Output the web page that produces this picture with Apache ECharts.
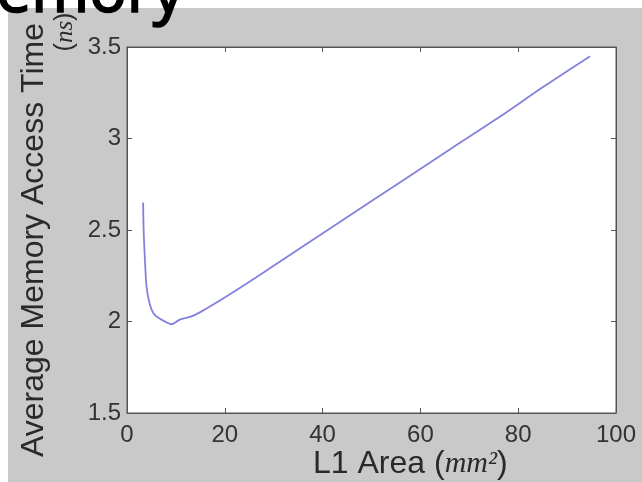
<!DOCTYPE html>
<html>
<head>
<meta charset="utf-8">
<script src="https://cdn.jsdelivr.net/npm/echarts@6/dist/echarts.min.js"></script>
<style>html,body{margin:0;padding:0;background:#fff;}#c{width:642px;height:482px;}</style>
</head>
<body>
<div id="c"></div>
<script>
// L1 area (mm^2) and average memory access time (ns)
var areaMm2 = [3.3, 3.4, 3.7, 4.0, 4.6, 5.4, 6.4, 8.1, 9.1, 10.8, 12.9, 14.9, 21.7, 28.6, 35.4, 45, 55.8, 66, 76.3, 85, 94.7];
var accessTimeNs = [2.65, 2.50, 2.32, 2.19, 2.10, 2.045, 2.02, 1.995, 1.985, 2.01, 2.025, 2.05, 2.16, 2.28, 2.40, 2.57, 2.76, 2.94, 3.12, 3.28, 3.45];
var xTicks = [0, 20, 40, 60, 80, 100];
var yTicks = [1.5, 2, 2.5, 3, 3.5];

var seriesData = areaMm2.map(function (x, i) { return [x, accessTimeNs[i]]; });

var chart = echarts.init(document.getElementById('c'), null, {renderer: 'canvas'});
var labelColor = '#333333';
var axisColor = '#555';
function xAxisDef(pos, showLabel) {
  return {
    type: 'value', position: pos,
    min: xTicks[0], max: xTicks[xTicks.length - 1], interval: xTicks[1] - xTicks[0],
    axisLine: {show: true, onZero: false, lineStyle: {color: axisColor, width: 1}},
    axisTick: {show: true, inside: true, length: 5, lineStyle: {color: axisColor}},
    axisLabel: {show: showLabel, fontSize: 24, color: labelColor, fontFamily: 'Liberation Sans', margin: 10},
    splitLine: {show: false}
  };
}
function yAxisDef(pos, showLabel) {
  return {
    type: 'value', position: pos,
    min: yTicks[0], max: yTicks[yTicks.length - 1], interval: yTicks[1] - yTicks[0],
    axisLine: {show: true, onZero: false, lineStyle: {color: axisColor, width: 1}},
    axisTick: {show: true, inside: true, length: 5, lineStyle: {color: axisColor}},
    axisLabel: {show: showLabel, fontSize: 24, color: labelColor, fontFamily: 'Liberation Sans', margin: 6, padding: [0, 0, 6, 0]},
    splitLine: {show: false}
  };
}
chart.setOption({
  backgroundColor: '#ffffff',
  animation: false,
  grid: {left: 127, top: 47, right: 26, bottom: 69, show: true, backgroundColor: '#ffffff', borderColor: axisColor, borderWidth: 1},
  xAxis: [xAxisDef('bottom', true), xAxisDef('top', false)],
  yAxis: [yAxisDef('left', true), yAxisDef('right', false)],
  graphic: [
    {type: 'rect', z: -10, shape: {x: 8, y: 8, width: 640, height: 480}, style: {fill: '#c9c9c9'}},
    {type: 'text', z: 100, x: 184, y: -6, style: {text: 'Memory', fontSize: 62, fontFamily: 'Noto Sans', fill: '#000', stroke: '#000', lineWidth: 1.5, textAlign: 'right', textVerticalAlign: 'middle'}},
    {type: 'text', z: 100, x: 34, y: 240, rotation: Math.PI / 2, style: {text: 'Average Memory Access Time', fontSize: 32, fontFamily: 'Liberation Sans', fill: '#2a2a2a', textAlign: 'center', textVerticalAlign: 'middle'}},
    {type: 'text', z: 100, x: 65, y: 32, rotation: Math.PI / 2, style: {
      text: '{a|(}{b|ns}{a|)}', textAlign: 'center', textVerticalAlign: 'middle',
      rich: {a: {fontSize: 25, fontFamily: 'Liberation Sans', fill: '#2a2a2a', color: '#2a2a2a'}, b: {fontSize: 25, fontFamily: 'Liberation Serif', fontStyle: 'italic', fill: '#2a2a2a', color: '#2a2a2a'}}
    }},
    {type: 'text', z: 100, x: 313, y: 464, style: {
      text: '{a|L1 Area (}{b|mm²}{a|)}', textAlign: 'left', textVerticalAlign: 'middle',
      rich: {a: {fontSize: 32, fontFamily: 'Liberation Sans', fill: '#2a2a2a', color: '#2a2a2a'}, b: {fontSize: 30, fontFamily: 'Liberation Serif', fontStyle: 'italic', fill: '#2a2a2a', color: '#2a2a2a'}}
    }}
  ],
  series: [{
    type: 'line', xAxisIndex: 0, yAxisIndex: 0,
    data: seriesData, showSymbol: false, smooth: 0.3,
    lineStyle: {color: '#8282dd', width: 1.8}
  }]
});
</script>
</body>
</html>
